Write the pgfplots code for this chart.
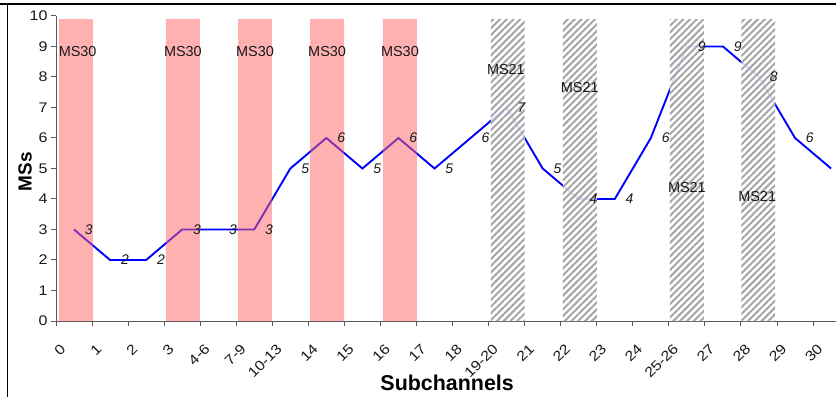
\documentclass[border=0pt]{standalone}
\usepackage{fontspec}
\setmainfont{Liberation Sans}
\newfontfamily\tickfont[FakeStretch=1.15]{Liberation Sans}
\usepackage{pgfplots}
\pgfplotsset{compat=1.18}
\usetikzlibrary{patterns.meta}
\definecolor{pinkbar}{RGB}{255,100,100}
\definecolor{hatchgray}{RGB}{165,165,165}
\definecolor{axisgray}{RGB}{90,90,90}
\definecolor{txt}{RGB}{25,25,25}
\begin{document}
\begin{tikzpicture}
\useasboundingbox (0,0) rectangle (836bp,397bp);
\draw[black, line width=1.2bp] (0,393bp) -- (836bp,393bp);
\draw[black, line width=1.2bp] (7.5bp,0) -- (7.5bp,393.6bp);
\begin{axis}[
  at={(56bp,76bp)}, anchor=south west,
  x=36.05bp, y=30.5bp,
  xmin=0, xmax=21.7, ymin=0, ymax=10,
  axis lines=left,
  axis line style={-, axisgray, line width=1bp},
  tick style={axisgray, line width=1bp},
  major tick length=5bp,
  tick align=outside,
  ytick={0,1,...,10},
  xtick={0,1,...,21},
  xticklabels={0,1,2,3,4-6,7-9,10-13,14,15,16,17,18,19-20,21,22,23,24,25-26,27,28,29,30},
  /pgf/number format/assume math mode=true,
  yticklabel style={font=\tickfont\fontsize{14}{14}\selectfont, text=txt},
  xticklabel style={font=\tickfont\fontsize{14}{14}\selectfont, text=txt, shift={(9.5bp,-18bp)}, rotate=45, anchor=east},
  every axis y label/.style={at={(axis description cs:-0.0395,0.49)}, rotate=90, anchor=center},
  every axis x label/.style={at={(axis description cs:0.5,-0.202)}, anchor=center},
  ylabel={\bfseries\fontsize{19}{19}\selectfont MSs},
  xlabel={\bfseries\fontsize{21.5}{21.5}\selectfont Subchannels},
  clip=false,
]
% line series
\addplot[blue, line width=1.9bp, mark=none,
  nodes near coords, point meta=y,
  every node near coord/.append style={anchor=west, xshift=10bp, inner sep=0pt,
    font=\itshape\fontsize{14}{14}\selectfont, text=txt}]
coordinates {
(0.5,3) (1.5,2) (2.5,2) (3.5,3) (4.5,3) (5.5,3) (6.5,5) (7.5,6) (8.5,5) (9.5,6)
(10.5,5) (11.5,6) (12.5,7) (13.5,5) (14.5,4) (15.5,4) (16.5,6) (17.5,9) (18.5,9)
(19.5,8) (20.5,6) (21.5,5)};
% MS30 bars
\addplot[ybar, bar width=0.94, bar shift=0pt, draw=none, fill=pinkbar, fill opacity=0.5]
coordinates {(0.55,9.9) (3.52,9.9) (5.52,9.9) (7.52,9.9) (9.54,9.9)};
% MS21 bars
\addplot[ybar, bar width=0.94, bar shift=0pt, draw=none, fill=white, fill opacity=0.85,
  postaction={fill opacity=1, pattern={Lines[angle=45, distance=4.8bp, line width=2bp]}, pattern color=hatchgray}]
coordinates {(12.53,9.9) (14.53,9.9) (17.5,9.9) (19.48,9.9)};
% bar labels
\addplot[only marks, mark=none, nodes near coords, point meta=explicit symbolic,
  every node near coord/.append style={anchor=center, inner sep=0pt,
    font=\fontsize{14.5}{14.5}\selectfont, text=txt}]
coordinates {
(0.6,8.82) [MS30] (3.52,8.82) [MS30] (5.52,8.82) [MS30] (7.52,8.82) [MS30] (9.54,8.82) [MS30]
(12.48,8.26) [MS21] (14.53,7.67) [MS21] (17.5,4.36) [MS21] (19.45,4.07) [MS21]};
\end{axis}
\end{tikzpicture}
\end{document}
